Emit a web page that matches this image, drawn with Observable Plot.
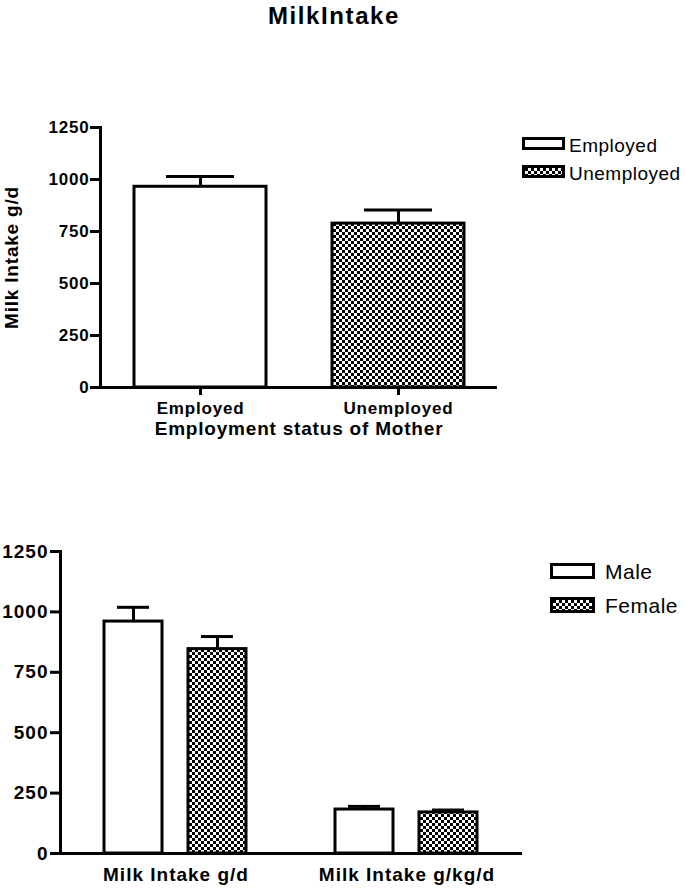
<!DOCTYPE html>
<html><head><meta charset="utf-8">
<script src="https://cdn.jsdelivr.net/npm/d3@7"></script>
<script src="https://cdn.jsdelivr.net/npm/@observablehq/plot@0.6"></script>
<style>
body{margin:0;background:#fff;}
#page{position:relative;width:685px;height:891px;overflow:hidden;font-family:'Liberation Sans',Arial,sans-serif;color:#000;}
#title{position:absolute;left:0;top:4px;width:668px;text-align:center;font-weight:bold;font-size:24px;line-height:24px;letter-spacing:1.6px;}
.chart{position:absolute;left:0;}
.leg-item{position:absolute;white-space:nowrap;}
.leg-sw{position:absolute;}
</style></head>
<body><div id="page">
<svg width="0" height="0" style="position:absolute"><defs>
<pattern id="checker" patternUnits="userSpaceOnUse" width="6" height="6"><rect width="6" height="6" fill="#fff"/><rect width="3" height="3" fill="#000"/><rect x="3" y="3" width="3" height="3" fill="#000"/></pattern>
</defs></svg>
<div id="title"></div>
<div id="c1" class="chart" style="top:100px"></div>
<div id="leg1"></div>
<div id="c2" class="chart" style="top:520px"></div>
<div id="leg2"></div>
</div>
<script>
// ---- data ----
const titleText = "MilkIntake";
const statusCategories = ["Employed", "Unemployed"];
const statusMeans = [965, 788];
const statusErrors = [50, 65];
const statusFills = ["white", "url(#checker)"];
const topYTicks = [0, 250, 500, 750, 1000, 1250];
const topYLabel = "Milk Intake g/d";
const topXLabel = "Employment status of Mother";

const measureCategories = ["Milk Intake g/d", "Milk Intake g/kg/d"];
const sexCategories = ["Male", "Female"];
const maleMeans = [960, 182];
const maleErrors = [59, 13];
const femaleMeans = [846, 170];
const femaleErrors = [52, 10];
const sexFills = ["white", "url(#checker)"];
const bottomYTicks = [0, 250, 500, 750, 1000, 1250];

document.getElementById("title").textContent = titleText;

const topData = statusCategories.map((s, i) => ({status: s, mean: statusMeans[i], err: statusErrors[i], fill: statusFills[i]}));

const chart1 = Plot.plot({
  width: 685, height: 360,
  marginLeft: 100, marginRight: 188, marginTop: 27, marginBottom: 73,
  style: {fontFamily: "'Liberation Sans', Arial, sans-serif", fontSize: "17px", fontWeight: "bold", letterSpacing: "0.8px", background: "transparent", overflow: "visible", color: "#000"},
  x: {domain: statusCategories, paddingInner: 0.335, paddingOuter: 0.17},
  y: {domain: [0, 1250]},
  color: {type: "identity"},
  marks: [
    Plot.ruleX(topData, {x: "status", y1: "mean", y2: d => d.mean + d.err, stroke: "#000", strokeWidth: 3}),
    Plot.tickY(topData, {x: "status", y: d => d.mean + d.err, stroke: "#000", strokeWidth: 3, insetLeft: 32, insetRight: 32}),
    Plot.barY(topData, {x: "status", y: "mean", fill: "fill", stroke: "#000", strokeWidth: 3}),
    Plot.ruleY([0], {stroke: "#000", strokeWidth: 3}),
    Plot.frame({anchor: "left", stroke: "#000", strokeWidth: 3}),
    Plot.axisY({ticks: topYTicks, tickFormat: d => String(d), tickSize: 10, tickPadding: 1, strokeWidth: 3, label: null}),
    Plot.axisX({tickSize: 8, tickPadding: 6, strokeWidth: 3, label: null}),
    Plot.text([topXLabel], {text: d => d, frameAnchor: "bottom", textAnchor: "middle", lineAnchor: "middle", dy: 41, fontSize: 19, fontWeight: "bold"}),
    Plot.text([topYLabel], {text: d => d, frameAnchor: "left", textAnchor: "middle", lineAnchor: "middle", rotate: -90, dx: -89, fontSize: 19, fontWeight: "bold"})
  ]
});
document.getElementById("c1").appendChild(chart1);

const bottomData = [];
measureCategories.forEach((m, i) => {
  bottomData.push({measure: m, sex: sexCategories[0], mean: maleMeans[i], err: maleErrors[i], fill: sexFills[0]});
  bottomData.push({measure: m, sex: sexCategories[1], mean: femaleMeans[i], err: femaleErrors[i], fill: sexFills[1]});
});

const chart2 = Plot.plot({
  width: 685, height: 371,
  marginLeft: 60, marginRight: 163, marginTop: 31, marginBottom: 38,
  style: {fontFamily: "'Liberation Sans', Arial, sans-serif", fontSize: "19px", fontWeight: "bold", letterSpacing: "1px", background: "transparent", overflow: "visible", color: "#000"},
  fx: {domain: measureCategories, padding: 0},
  x: {domain: sexCategories, paddingInner: 0.306, paddingOuter: 0.512, axis: null},
  y: {domain: [0, 1250]},
  color: {type: "identity"},
  marks: [
    Plot.ruleX(bottomData, {fx: "measure", x: "sex", y1: "mean", y2: d => d.mean + d.err, stroke: "#000", strokeWidth: 3}),
    Plot.tickY(bottomData, {fx: "measure", x: "sex", y: d => d.mean + d.err, stroke: "#000", strokeWidth: 3, insetLeft: 13, insetRight: 13}),
    Plot.barY(bottomData, {fx: "measure", x: "sex", y: "mean", fill: "fill", stroke: "#000", strokeWidth: 3}),
    Plot.ruleY([0], {stroke: "#000", strokeWidth: 3}),
    Plot.frame({anchor: "left", stroke: "#000", strokeWidth: 3, facetAnchor: "left"}),
    Plot.axisY({ticks: bottomYTicks, tickFormat: d => String(d), tickSize: 10, tickPadding: 2, strokeWidth: 3, label: null}),
    Plot.axisFx({anchor: "bottom", tickSize: 0, tickPadding: 14, label: null})
  ]
});
document.getElementById("c2").appendChild(chart2);

// ---- legends ----
function legend(containerId, labels, fills, sw, rows) {
  const c = document.getElementById(containerId);
  labels.forEach((lab, i) => {
    const r = rows[i];
    const s = document.createElementNS("http://www.w3.org/2000/svg", "svg");
    s.setAttribute("width", sw.w); s.setAttribute("height", sw.h);
    s.setAttribute("class", "leg-sw");
    s.style.left = sw.x + "px"; s.style.top = r.swTop + "px";
    const rect = document.createElementNS("http://www.w3.org/2000/svg", "rect");
    rect.setAttribute("x", 1.5); rect.setAttribute("y", 1.5);
    rect.setAttribute("width", sw.w - 3); rect.setAttribute("height", sw.h - 3);
    rect.setAttribute("fill", fills[i]); rect.setAttribute("stroke", "#000"); rect.setAttribute("stroke-width", 3);
    s.appendChild(rect);
    c.appendChild(s);
    const t = document.createElement("div");
    t.className = "leg-item";
    t.textContent = lab;
    t.style.left = sw.tx + "px"; t.style.top = r.tTop + "px";
    t.style.fontSize = sw.fs + "px"; t.style.lineHeight = sw.fs + "px";
    t.style.letterSpacing = "0.5px";
    c.appendChild(t);
  });
}
legend("leg1", statusCategories, statusFills, {x: 522, w: 43, h: 13, tx: 569, fs: 19}, [{swTop: 137, tTop: 136}, {swTop: 165, tTop: 164}]);
legend("leg2", sexCategories, sexFills, {x: 550, w: 45, h: 16, tx: 605, fs: 21}, [{swTop: 563, tTop: 561}, {swTop: 597, tTop: 595}]);
</script>
</body></html>
